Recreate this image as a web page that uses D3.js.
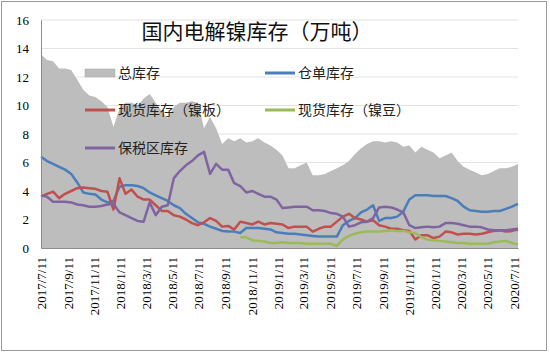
<!DOCTYPE html>
<html>
<head>
<meta charset="utf-8">
<script src="https://cdn.jsdelivr.net/npm/d3@7"></script>
<style>
  body { margin: 0; background: #fff; }
  svg { display: block; }
</style>
</head>
<body>
<div id="chart"></div>
<script>
// biweekly readings, first one 2017/7/11
const startDate = "2017-07-11";
const tickLabels = ["2017/7/11", "2017/9/11", "2017/11/11", "2018/1/11", "2018/3/11", "2018/5/11",
  "2018/7/11", "2018/9/11", "2018/11/11", "2019/1/11", "2019/3/11", "2019/5/11", "2019/7/11",
  "2019/9/11", "2019/11/11", "2020/1/11", "2020/3/11", "2020/5/11", "2020/7/11"];
const yTicks = [0, 2, 4, 6, 8, 10, 12, 14, 16];

const totalStock = [13.6, 13.2, 13.1, 12.6, 12.6, 12.5, 11.8, 11.1, 10.7, 10.6,
  10.3, 9.9, 8.5, 9.8, 10.2, 10.2, 10.0, 10.5, 10.8, 10.2,
  9.6, 9.1, 9.9, 10.2, 10.2, 10.3, 10.2, 8.4, 9.2, 8.4,
  7.3, 7.7, 7.5, 7.7, 7.4, 7.5, 7.7, 7.4, 7.2, 6.9,
  6.5, 5.6, 5.6, 5.8, 6.0, 5.1, 5.1, 5.2, 5.4, 5.6,
  5.8, 6.1, 6.6, 7.0, 7.3, 7.5, 7.5, 7.4, 7.5, 7.4,
  7.1, 7.2, 6.7, 7.1, 6.9, 6.7, 6.3, 6.5, 6.7, 6.1,
  5.7, 5.5, 5.3, 5.1, 5.2, 5.4, 5.6, 5.6, 5.7, 5.9];

const warrantStock = [6.4, 6.1, 5.9, 5.7, 5.5, 5.2, 4.6, 3.9, 3.8, 3.75,
  3.4, 3.2, 3.3, 4.3, 4.4, 4.4, 4.35, 4.2, 3.9, 3.7,
  3.5, 3.3, 3.0, 2.8, 2.4, 2.1, 1.8, 1.7, 1.5, 1.35,
  1.2, 1.15, 1.15, 1.05, 1.4, 1.4, 1.4, 1.35, 1.3, 1.1,
  1.05, 1.0, 1.0, 0.95, 0.9, 0.85, 0.8, 0.8, 0.8, 0.8,
  1.6, 1.9, 2.1, 2.5, 2.7, 3.0, 1.9, 2.1, 2.1, 2.2,
  2.55, 3.4, 3.7, 3.7, 3.7, 3.65, 3.65, 3.65, 3.5, 3.3,
  2.9, 2.65, 2.6, 2.55, 2.55, 2.6, 2.6, 2.75, 2.9, 3.1];

const spotPlate = [3.6, 3.8, 3.95, 3.5, 3.8, 4.0, 4.2, 4.25, 4.2, 4.15,
  4.0, 3.95, 2.7, 4.9, 3.8, 4.1, 3.6, 3.4, 3.4, 3.0,
  2.6, 2.6, 2.3, 2.2, 2.0, 1.75, 1.6, 1.8, 2.1, 1.9,
  1.5, 1.55, 1.3, 1.85, 1.75, 1.65, 1.85, 1.65, 1.75, 1.7,
  1.65, 1.4, 1.5, 1.5, 1.5, 1.15, 1.35, 1.5, 1.5, 1.85,
  2.2, 2.4, 2.1, 2.0, 1.85, 1.95, 1.6, 1.5, 1.35, 1.35,
  1.25, 1.2, 0.6, 0.9, 0.9, 0.7, 0.8, 1.15, 1.1, 0.95,
  1.0, 1.0, 0.95, 1.0, 1.1, 1.2, 1.25, 1.15, 1.2, 1.3];

const spotBeans = [null, null, null, null, null, null, null, null, null, null,
  null, null, null, null, null, null, null, null, null, null,
  null, null, null, null, null, null, null, null, null, null,
  null, null, null, 0.75, 0.75, 0.55, 0.5, 0.45, 0.35, 0.35,
  0.4, 0.35, 0.35, 0.35, 0.3, 0.3, 0.3, 0.3, 0.3, 0.15,
  0.6, 0.85, 1.0, 1.1, 1.15, 1.15, 1.15, 1.2, 1.25, 1.2,
  1.2, 1.1, 1.05, 0.75, 0.6, 0.55, 0.5, 0.45, 0.4, 0.35,
  0.35, 0.3, 0.3, 0.3, 0.3, 0.4, 0.45, 0.5, 0.35, 0.25];

const bondedStock = [3.7, 3.6, 3.25, 3.25, 3.25, 3.2, 3.05, 3.0, 2.9, 2.9,
  2.95, 3.05, 3.1, 2.5, 2.3, 2.1, 1.9, 1.85, 3.2, 2.3,
  2.9, 3.0, 4.9, 5.4, 5.8, 6.1, 6.5, 6.75, 5.2, 5.9,
  5.5, 5.5, 4.55, 4.35, 3.9, 4.0, 3.8, 3.6, 3.6, 3.4,
  2.8, 2.85, 2.9, 2.9, 2.9, 2.65, 2.65, 2.6, 2.45, 2.4,
  2.2, 1.5, 1.6, 1.8, 1.85, 2.1, 2.85, 2.9, 2.85, 2.7,
  2.5, 1.6, 1.4, 1.45, 1.5, 1.45, 1.5, 1.75, 1.75, 1.7,
  1.6, 1.5, 1.5, 1.45, 1.3, 1.25, 1.25, 1.25, 1.3, 1.35];

const width = 550, height = 353;
const margin = { top: 20, right: 32, bottom: 105, left: 41 };
const serif = "'Liberation Serif', 'DejaVu Serif', serif";
const cjk = "'Noto Sans CJK SC', 'Noto Sans', sans-serif";

const parse = d3.timeParse("%Y-%m-%d");
const parseTick = d3.timeParse("%Y/%m/%d");
const t0 = parse(startDate);
const dates = totalStock.map((d, i) => d3.timeDay.offset(t0, i * 14));

const svg = d3.select("#chart").append("svg")
  .attr("width", width)
  .attr("height", height);

svg.append("rect")
  .attr("x", 1.5).attr("y", 1.5)
  .attr("width", 545).attr("height", 349)
  .attr("fill", "#fff")
  .attr("stroke", "#9a9a9a");

const x = d3.scaleTime()
  .domain([dates[0], dates[dates.length - 1]])
  .range([margin.left, width - margin.right]);

const y = d3.scaleLinear()
  .domain([0, 16])
  .range([height - margin.bottom, margin.top]);

// gridlines
svg.append("g")
  .selectAll("line")
  .data(yTicks.filter((d) => d > 0))
  .join("line")
  .attr("x1", x.range()[0])
  .attr("x2", x.range()[1])
  .attr("y1", (d) => y(d))
  .attr("y2", (d) => y(d))
  .attr("stroke", "#e3e3e3")
  .attr("stroke-width", 1);

// total stock area
svg.append("path")
  .datum(totalStock)
  .attr("fill", "#bdbdbd")
  .attr("d", d3.area()
    .x((d, i) => x(dates[i]))
    .y0(y(0))
    .y1((d) => y(d)));

const series = [
  { name: "仓单库存", values: warrantStock, color: "#4a7ebb" },
  { name: "现货库存（镍板）", values: spotPlate, color: "#c0504d" },
  { name: "现货库存（镍豆）", values: spotBeans, color: "#9bbb59" },
  { name: "保税区库存", values: bondedStock, color: "#8064a2" }
];

const line = d3.line()
  .defined((d) => d != null)
  .x((d, i) => x(dates[i]))
  .y((d) => y(d));

svg.append("g")
  .selectAll("path")
  .data(series)
  .join("path")
  .attr("fill", "none")
  .attr("stroke", (d) => d.color)
  .attr("stroke-width", 2.5)
  .attr("stroke-linejoin", "round")
  .attr("d", (d) => line(d.values));

// axes
const yAxis = svg.append("g")
  .attr("transform", `translate(${margin.left},0)`)
  .call(d3.axisLeft(y).tickValues(yTicks).tickSize(0).tickPadding(12));
yAxis.select(".domain").attr("stroke", "#8c8c8c");
yAxis.selectAll("text")
  .attr("font-family", serif)
  .attr("font-size", 13)
  .attr("fill", "#000");

const xAxis = svg.append("g")
  .attr("transform", `translate(0,${y(0)})`)
  .call(d3.axisBottom(x)
    .tickValues(tickLabels.map(parseTick))
    .tickFormat((d, i) => tickLabels[i])
    .tickSize(0));
xAxis.select(".domain").attr("stroke", "#8c8c8c");
xAxis.selectAll("text")
  .attr("font-family", serif)
  .attr("font-size", 13)
  .attr("fill", "#000")
  .attr("text-anchor", "end")
  .attr("transform", "rotate(-90)")
  .attr("x", -9)
  .attr("y", 0)
  .attr("dy", "0.35em");

// title
svg.append("text")
  .attr("x", 257)
  .attr("y", 39)
  .attr("text-anchor", "middle")
  .attr("font-family", cjk)
  .attr("font-size", 21)
  .attr("fill", "#111")
  .text("国内电解镍库存（万吨）");

// legend
const legendItems = [
  { name: "总库存", type: "area", color: "#bdbdbd", lx: 85, ly: 73 },
  { name: series[0].name, type: "line", color: series[0].color, lx: 265, ly: 73 },
  { name: series[1].name, type: "line", color: series[1].color, lx: 85, ly: 110 },
  { name: series[2].name, type: "line", color: series[2].color, lx: 265, ly: 110 },
  { name: series[3].name, type: "line", color: series[3].color, lx: 85, ly: 148 }
];

const legend = svg.append("g")
  .selectAll("g")
  .data(legendItems)
  .join("g")
  .attr("transform", (d) => `translate(${d.lx},${d.ly})`);

legend.filter((d) => d.type === "area")
  .append("rect")
  .attr("x", 0).attr("y", -4)
  .attr("width", 30).attr("height", 8)
  .attr("fill", (d) => d.color)
  .attr("stroke", "#a6a6a6")
  .attr("stroke-width", 0.5);

legend.filter((d) => d.type === "line")
  .append("line")
  .attr("x1", 0).attr("x2", 30)
  .attr("stroke", (d) => d.color)
  .attr("stroke-width", 3);

legend.append("text")
  .attr("x", 33)
  .attr("dy", "0.36em")
  .attr("font-family", cjk)
  .attr("font-size", 14)
  .attr("fill", "#222")
  .text((d) => d.name);
</script>
</body>
</html>
